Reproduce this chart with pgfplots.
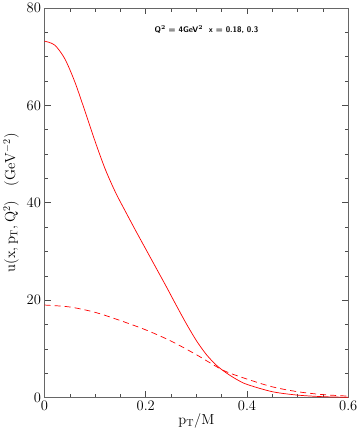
\documentclass[border=0pt]{standalone}
\usepackage{pgfplots}
\pgfplotsset{compat=1.18}
\begin{document}
\begin{tikzpicture}
\begin{axis}[scale only axis, width=301pt, height=386pt,
  xmin=0, xmax=0.6, ymin=0, ymax=80,
  xtick={0,0.2,0.4,0.6}, xticklabels={0,0.2,0.4,0.6},
  ytick={0,20,40,60,80},
  minor x tick num=3, minor y tick num=3,
  tick align=inside, major tick length=6pt, minor tick length=3.5pt,
  axis line style={black!60, line width=0.8pt},
  every tick/.style={black!70, line width=0.6pt},
  tick label style={font=\Large},
  xlabel={\Large $\mathrm{p_T/M}$},
  ylabel={\Large $\mathrm{u(x,p_T,Q^2)}\quad\mathrm{(GeV^{-2})}$},
  xlabel style={yshift=5pt}, ylabel style={yshift=1pt},
  clip=false]
\addplot[red, line width=0.7pt, smooth] coordinates {
(0,73.2) (0.02,72.4) (0.04,69.6) (0.06,64.8) (0.08,58.8) (0.10,52.6) (0.12,46.9)
(0.14,42.2) (0.16,38.2) (0.18,34.3) (0.20,30.5) (0.22,26.7) (0.24,22.9) (0.26,19.0)
(0.28,15.2) (0.30,11.7) (0.32,8.8) (0.34,6.6) (0.36,5.0) (0.38,3.7) (0.40,2.7)
(0.45,1.2) (0.5,0.5) (0.55,0.18) (0.6,0.05)};
\addplot[red, line width=0.7pt, smooth, dash pattern=on 6pt off 4pt] coordinates {
(0,19.0) (0.05,18.6) (0.1,17.5) (0.15,15.8) (0.2,13.9) (0.25,11.6) (0.3,8.8)
(0.353,5.6) (0.4,3.8) (0.45,2.2) (0.5,1.2) (0.55,0.6) (0.6,0.3)};
\node[font=\footnotesize\sffamily\bfseries] at (axis cs:0.32,75.6) {Q$^{\mathbf 2}$ = 4GeV$^{\mathbf 2}$\ \ x = 0.18, 0.3};
\end{axis}
\end{tikzpicture}
\end{document}
